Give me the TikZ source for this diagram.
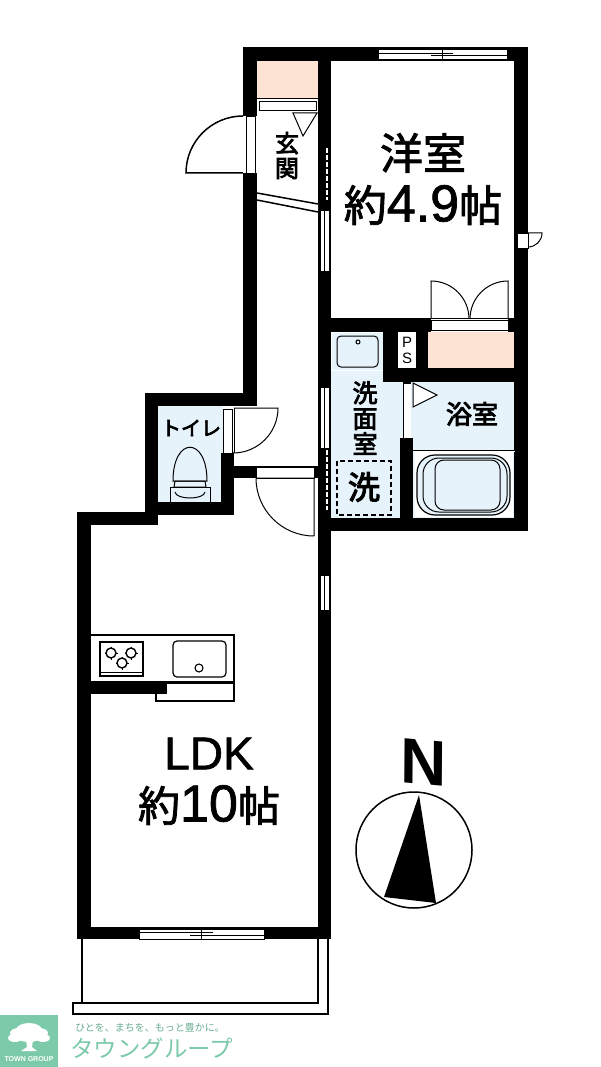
\documentclass[tikz,border=0pt]{standalone}
\usepackage{fontspec}
\newfontfamily\jp{Noto Sans CJK JP}
\newfontfamily\jpm[FakeBold=2]{Noto Sans CJK JP}
\newfontfamily\jps[FakeBold=3.5]{Noto Sans CJK JP}
\newfontfamily\lat{Liberation Sans}
\newfontfamily\latm[FakeBold=1.4]{Liberation Sans}
\definecolor{orangefill}{HTML}{FDE3D3}
\definecolor{bluefill}{HTML}{E6F3FB}
\definecolor{logogreen}{HTML}{7CCAA9}
\tikzset{
  wall/.style={fill=black},
  ln/.style={draw=black,line width=1pt},
  thick ln/.style={draw=black,line width=1.5pt},
  openw/.style={fill=white,draw=black,line width=.8pt},
  lab/.style={inner sep=0pt,align=center,text=black},
}
\begin{document}
\begin{tikzpicture}[x=1pt,y=-1pt]
\useasboundingbox (0,0) rectangle (600,1067);
% room fills
\fill[orangefill] (257,61) rectangle (318,99);
\fill[orangefill] (428,332) rectangle (515,368);
\fill[bluefill] (158,406) rectangle (221,502);
\fill[bluefill] (331,371) -- (385,371) -- (385,381) -- (400,381) -- (400,518) -- (331,518) -- cycle;
\fill[bluefill] (332,333) rectangle (383,370);
\fill[bluefill] (413,382) rectangle (515,518);
% walls
\fill[wall] (243,47) rectangle (528,61);
\fill[wall] (243,47) rectangle (257,406);
\fill[wall] (318,47) rectangle (331,939);
\fill[wall] (514,47) rectangle (528,531);
\fill[wall] (318,318) rectangle (528,332);
\fill[wall] (383,332) rectangle (428,382);
\fill[wall] (383,368) rectangle (528,382);
\fill[wall] (318,518) rectangle (528,531);
\fill[wall] (400,382) rectangle (413,518);
\fill[wall] (145,393) rectangle (257,406);
\fill[wall] (145,393) rectangle (158,525);
\fill[wall] (221,406) rectangle (234,515);
\fill[wall] (145,502) rectangle (234,515);
\fill[wall] (234,466) rectangle (318,478);
\fill[wall] (77,512) rectangle (158,525);
\fill[wall] (77,512) rectangle (91,939);
\fill[wall] (77,927) rectangle (331,939);
\fill[wall] (91,682) rectangle (167,694);
% closet top
\fill[white] (257,99) rectangle (318,116);
\draw[ln] (257,99) -- (318,99);
\draw[ln,fill=white] (259,102) rectangle (316,111);
% top window
\draw[openw] (378,49) rectangle (507,59);
\draw[ln] (378,53.5) -- (453,53.5) (431,55.5) -- (507,55.5) (442,49) -- (442,59);
% entry door
\fill[white] (243,116) rectangle (257,173);
\draw[openw] (246,116) rectangle (255,173);
\draw[thick ln] (243,116) arc[start angle=-90,end angle=-180,radius=57] -- (243,173);
% triangle at genkan
\draw[ln,fill=white] (293,113) -- (317,113) -- (303,136) -- cycle;
% step
\fill[white] (257,193) -- (318,203) -- (318,212) -- (257,200) -- cycle;
\draw[thick ln] (257,193) -- (318,204) (257,200) -- (318,212);
% slots in mid wall
\draw[white,line width=1.3pt,dash pattern=on 5pt off 2pt] (327,148) -- (327,200);
\draw[openw] (320,210) rectangle (329,271);
\draw[ln] (324.5,210) -- (324.5,271);
\draw[openw] (320,387) rectangle (329,448);
\draw[ln] (324.5,387) -- (324.5,448);
\draw[white,line width=1.3pt,dash pattern=on 5pt off 2pt] (327,450) -- (327,510);
\draw[openw] (320,575) rectangle (329,610);
\draw[ln] (324.5,575) -- (324.5,610);
% right small door
\draw[openw] (517,233) rectangle (528,248);
\draw[ln] (528,233) -- (542,233) arc[start angle=0,end angle=90,radius=14];
% closet doors
\fill[white] (431,318) rectangle (508,332);
\draw[openw] (431,320) rectangle (508,330);
\draw[ln] (431,318) -- (431,281) arc[start angle=-90,end angle=0,radius=38];
\draw[ln] (508,318) -- (508,281) arc[start angle=-90,end angle=-180,radius=38];
\draw[ln] (431,318) -- (508,318);
% toilet door
\fill[white] (221,406) rectangle (234,453);
\fill[bluefill] (221,406) rectangle (223,453);
\draw[openw] (223,409) rectangle (232,453);
\draw[ln] (234,408) -- (278,408) arc[start angle=0,end angle=90,radius=45];
\draw[ln] (234,408) -- (234,453);
% LDK door
\draw[openw] (256,467) rectangle (314,478);
\draw[ln] (314,536) -- (314,478) -- (256,478) arc[start angle=180,end angle=90,radius=58];
% bath door
\fill[bluefill] (400,382) rectangle (403,438);
\fill[white] (403,383) rectangle (411,438);
\draw[ln] (403,383) rectangle (411,438);
\fill[bluefill] (411,382) rectangle (413,438);
\draw[ln,fill=white] (413,383) -- (437,395) -- (413,407) -- cycle;
% sink
\draw[ln,rounded corners=4pt] (337,336) rectangle (378,367);
\draw[ln] (358,342) circle[radius=2];
% PS
\fill[white] (398,332) rectangle (416,368);
\node[lab,font=\lat\fontsize{15}{16}\selectfont] (ps) at (407,350) {P\\S};
% dashed washer
\draw[draw=black,line width=1.3pt,dash pattern=on 5pt off 3pt] (337,461) rectangle (391,515);
% bath tub
\fill[white] (413,450) rectangle (515,452);
\draw[line width=.8pt] (413,450) -- (515,450);
\fill[white] (415,452) rectangle (513,517);
\draw[line width=1.2pt,fill=bluefill,rounded corners=18pt] (417,455) rectangle (510,515);
\draw[line width=1pt,rounded corners=16pt] (423,458) rectangle (507,512);
\draw[line width=1pt,rounded corners=9pt] (435,460) rectangle (500,510);
% toilet
\draw[ln] (173,481) .. controls (173,436) and (207,436) .. (207,481) -- cycle;
\draw[ln] (175,481) -- (205,481) -- (206,487) -- (174,487) -- cycle;
\draw[ln] (170,487) rectangle (210,502);
\draw[ln] (175,492) .. controls (176,500) and (204,500) .. (205,492);
% kitchen
\draw[line width=1.4pt,fill=white] (91,635) -- (234,635) -- (234,682) -- (91,682);
\draw[line width=1.4pt,fill=white] (167,683) -- (234,683) -- (234,701) -- (156,701) -- (156,694);
\fill[wall] (91,682) rectangle (167,694);
\draw[line width=1.4pt] (100,642) rectangle (143,676);
\draw[ln] (100,672) -- (143,672);
\foreach \p/\q in {111/653,131/653,122/663}{
  \draw[line width=1.4pt] (\p,\q) circle[radius=5];
  \draw[line width=.8pt] (\p-6.5,\q) -- (\p-5,\q) (\p+6.5,\q) -- (\p+5,\q) (\p,\q-6.5) -- (\p,\q-5) (\p,\q+6.5) -- (\p,\q+5);
}
\draw[line width=1.2pt,rounded corners=4pt] (173,641) rectangle (226,677);
\draw[line width=1.1pt] (199,668) circle[radius=4];
% bottom window
\draw[openw] (139,929) rectangle (264,939);
\draw[ln] (139,932.5) -- (213,932.5) (190,935) -- (264,935) (201,929) -- (201,939);
% balcony
\draw[line width=1.5pt] (82,939) -- (82,1003) -- (318,1003) -- (318,939);
\draw[line width=1.5pt] (328,939) -- (328,1014) -- (73,1014) -- (73,1003) -- (82,1003);
% compass
\draw[line width=1.5pt] (414,850) circle[radius=58];
\fill[black] (419,795) -- (384,897) -- (436,903) -- cycle;
\node[lab,rotate=-5,xslant=-0.08,font=\lat\bfseries\fontsize{64}{64}\selectfont] (north) at (424,762) {N};
% logo
\fill[logogreen] (0,1015) rectangle (58,1067);
\begin{scope}[white]
\fill (29,1030) ellipse[x radius=13,y radius=7];
\fill (19,1033) ellipse[x radius=9,y radius=5];
\fill (39,1033) ellipse[x radius=9,y radius=5];
\fill (15,1038) ellipse[x radius=7,y radius=4];
\fill (43,1038) ellipse[x radius=7,y radius=4];
\fill (29,1037) ellipse[x radius=12,y radius=5];
\fill (26,1040) -- (33,1040) -- (32,1047) -- (37,1051) -- (21,1051) -- (27,1047) -- cycle;
\end{scope}
\node[lab,text=white,font=\lat\bfseries\fontsize{7}{9}\selectfont] (tg) at (29,1059) {TOWN GROUP};
\node[lab,text=logogreen!85!black,anchor=west,font=\jp\fontsize{10}{11}\selectfont] (tag) at (75,1028) {ひとを、まちを、もっと豊かに。};
\node[lab,text=logogreen,anchor=west,font=\jp\fontsize{23.5}{26}\selectfont] (tgk) at (70,1048) {タウングループ};
% labels
\node[lab,font=\jpm\fontsize{43}{50}\selectfont] (yoshitsu) at (423,153) {洋室};
\node[lab] (yakushitsu) at (423,205) {\jpm\fontsize{43}{50}\selectfont 約\latm\fontsize{52}{50}\selectfont 4.9\jpm\fontsize{43}{50}\selectfont 帖};
\node[lab,font=\jps\fontsize{24}{25}\selectfont] (genkan) at (287,155.5) {玄\\関};
\node[lab,font=\jps\fontsize{20}{22}\selectfont] (toilet) at (191,428) {トイレ};
\node[lab,font=\jps\fontsize{26}{28}\selectfont] (yokushitsu) at (472,414) {浴室};
\node[lab,font=\jps\fontsize{25}{25.5}\selectfont] (senmen) at (365,418) {洗\\面\\室};
\node[lab,font=\jps\fontsize{32}{36}\selectfont] (sen) at (364,487) {洗};
\node[lab,font=\latm\fontsize{46}{50}\selectfont] (ldk) at (209,753.5) {LDK};
\node[lab] (ldksize) at (209,805) {\jpm\fontsize{42}{50}\selectfont 約\latm\fontsize{52}{50}\selectfont 10\jpm\fontsize{42}{50}\selectfont 帖};
\end{tikzpicture}
\end{document}
